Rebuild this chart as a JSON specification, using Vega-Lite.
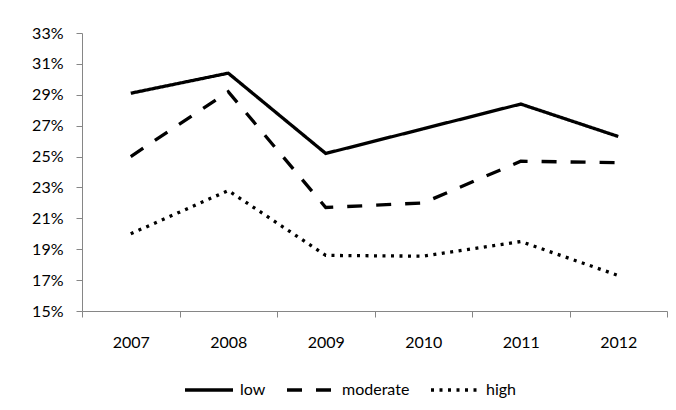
{
  "$schema": "https://vega.github.io/schema/vega-lite/v6.json",
  "width": 585,
  "height": 278,
  "autosize": "none",
  "padding": {"left": 82, "top": 33, "right": 9, "bottom": 99},
  "background": "white",
  "config": {"view": {"stroke": null}, "font": "Lato"},
  "data": {
    "values": [
      {"year": "2007", "level": "low", "value": 0.291},
      {"year": "2008", "level": "low", "value": 0.304},
      {"year": "2009", "level": "low", "value": 0.252},
      {"year": "2010", "level": "low", "value": 0.268},
      {"year": "2011", "level": "low", "value": 0.284},
      {"year": "2012", "level": "low", "value": 0.263},
      {"year": "2007", "level": "moderate", "value": 0.250},
      {"year": "2008", "level": "moderate", "value": 0.292},
      {"year": "2009", "level": "moderate", "value": 0.217},
      {"year": "2010", "level": "moderate", "value": 0.220},
      {"year": "2011", "level": "moderate", "value": 0.247},
      {"year": "2012", "level": "moderate", "value": 0.246},
      {"year": "2007", "level": "high", "value": 0.200},
      {"year": "2008", "level": "high", "value": 0.228},
      {"year": "2009", "level": "high", "value": 0.186},
      {"year": "2010", "level": "high", "value": 0.1855},
      {"year": "2011", "level": "high", "value": 0.195},
      {"year": "2012", "level": "high", "value": 0.173}
    ]
  },
  "mark": {"type": "line", "color": "black", "strokeWidth": 3.3, "strokeCap": "butt", "strokeJoin": "miter"},
  "encoding": {
    "x": {
      "field": "year",
      "type": "ordinal",
      "scale": {"type": "band", "paddingInner": 0, "paddingOuter": 0},
      "bandPosition": 0.5,
      "axis": {
        "title": null,
        "labelAngle": 0,
        "tickBand": "extent",
        "domainColor": "#868686",
        "tickColor": "#868686",
        "tickSize": 6,
        "labelFontSize": 16,
        "labelColor": "black",
        "labelPadding": 17,
        "labelFont": "Lato"
      }
    },
    "y": {
      "field": "value",
      "type": "quantitative",
      "scale": {"domain": [0.15, 0.33], "nice": false, "zero": false},
      "axis": {
        "title": null,
        "values": [0.15, 0.17, 0.19, 0.21, 0.23, 0.25, 0.27, 0.29, 0.31, 0.33],
        "format": ".0%",
        "grid": false,
        "domainColor": "#868686",
        "tickColor": "#868686",
        "tickSize": 6,
        "labelPadding": 13,
        "labelFontSize": 16,
        "labelColor": "black",
        "labelFont": "Lato"
      }
    },
    "strokeDash": {
      "field": "level",
      "type": "nominal",
      "scale": {"domain": ["low", "moderate", "high"], "range": [[1, 0], [15, 14], [3, 5.5]]},
      "legend": {
        "title": null,
        "orient": "none",
        "legendX": 101,
        "legendY": 331,
        "direction": "horizontal",
        "symbolType": "stroke",
        "symbolSize": 2304,
        "symbolStrokeWidth": 3.3,
        "symbolStrokeColor": "black",
        "labelFontSize": 16,
        "labelFont": "Lato",
        "labelOffset": 5,
        "columnPadding": 14,
        "labelColor": "black",
        "padding": 0
      }
    }
  }
}
